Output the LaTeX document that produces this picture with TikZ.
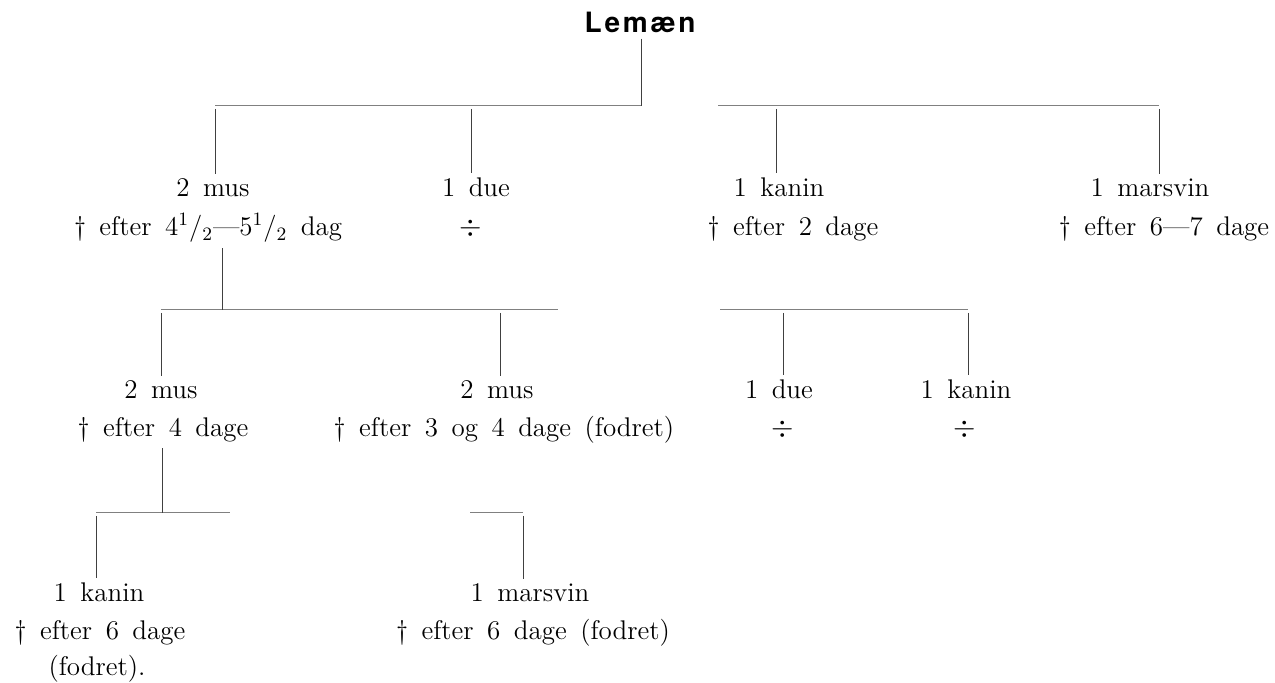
\documentclass[tikz,border=0pt]{standalone}
\usepackage{fontspec}
\newfontfamily\titelfont[LetterSpace=10]{TeX Gyre Heros}
\newcommand{\titel}{\titelfont\bfseries\fontsize{14}{17}\selectfont}
\newcommand{\dyrfont}{\fontsize{13.5}{20}\selectfont\spaceskip=0.5em\relax}
\newcommand{\halv}{\textsuperscript{1}/\textsubscript{2}}

\begin{document}
\begin{tikzpicture}[x=0.5pt, y=-0.5pt,
    every node/.style={inner xsep=0pt, inner ysep=2.5pt, anchor=base, font=\dyrfont},
    stamme/.style={draw=black!75, line width=0.5pt},
    bjaelke/.style={draw=black!50, line width=0.5pt}]
  \useasboundingbox (0,0) rectangle (1275,683);

  \node (lemaen) at (640,33) [font=\titel] {Lemæn};

  \node (mus1) at (213,197) {2 mus};
  \node (mus1t) at (208,236) {\textdagger{} efter 4\halv---5\halv{} dag};
  \node (due1) at (476,197) {1 due};
  \node (due1t) at (471,236) {$\div$};
  \node (kanin1) at (779,197) {1 kanin};
  \node (kanin1t) at (793,236) {\textdagger{} efter 2 dage};
  \node (marsvin1) at (1150,197) {1 marsvin};
  \node (marsvin1t) at (1164,236) {\textdagger{} efter 6---7 dage};

  \node (mus2) at (161,399) {2 mus};
  \node (mus2t) at (163,437) {\textdagger{} efter 4 dage};
  \node (mus3) at (497,399) {2 mus};
  \node (mus3t) at (504,437) {\textdagger{} efter 3 og 4 dage (fodret)};
  \node (due2) at (779,399) {1 due};
  \node (due2t) at (783,437) {$\div$};
  \node (kanin2) at (966,399) {1 kanin};
  \node (kanin2t) at (965,437) {$\div$};

  \node (kanin3) at (99,602) {1 kanin};
  \node (kanin3t) at (100,640) {\textdagger{} efter 6 dage};
  \node (kanin3f) at (97,676) {(fodret).};
  \node (marsvin2) at (530,602) {1 marsvin};
  \node (marsvin2t) at (533,640) {\textdagger{} efter 6 dage (fodret)};

  % knudepunkter paa tvaerstregerne
  \coordinate (r) at (641,106);
  \coordinate (brud1) at (718,106);
  \coordinate (a) at (215,106);
  \coordinate (b) at (471,106);
  \coordinate (c) at (776,106);
  \coordinate (d) at (1159,106);
  \coordinate (e0) at (222,310);
  \coordinate (e) at (161,310);
  \coordinate (f) at (500,310);
  \coordinate (e-slut) at (558,310);
  \coordinate (g-start) at (720,310);
  \coordinate (g) at (783,310);
  \coordinate (h) at (968,310);
  \coordinate (i0) at (162,513);
  \coordinate (i) at (96,513);
  \coordinate (i-slut) at (230,513);
  \coordinate (j-start) at (470,513);
  \coordinate (j) at (523,513);

  \foreach \fra/\til in {a/r, brud1/d, e/e-slut, g-start/h, i/i-slut, j-start/j}
    \draw[bjaelke] (\fra) -- (\til);
  \foreach \knude/\dyr in {r/lemaen, e0/mus1t, i0/mus2t}
    \draw[stamme] (\dyr.south -| \knude) -- (\knude);
  \foreach \knude/\dyr in {a/mus1, b/due1, c/kanin1, d/marsvin1, e/mus2, f/mus3, g/due2, h/kanin2, i/kanin3, j/marsvin2}
    \draw[stamme, shorten <=1.5pt] (\knude) -- (\knude |- \dyr.north);
\end{tikzpicture}
\end{document}
